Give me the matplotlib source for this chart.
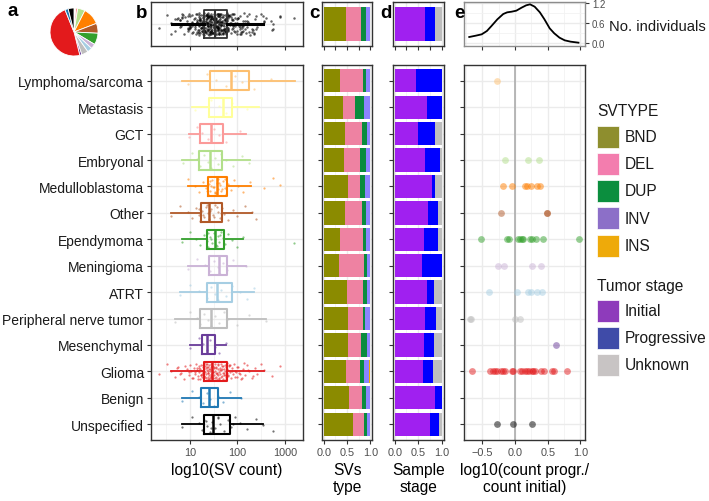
import numpy as np
import matplotlib
matplotlib.use("Agg")
import matplotlib.pyplot as plt
from matplotlib.patches import Rectangle
from matplotlib.ticker import FixedLocator, NullFormatter

plt.rcParams['font.family'] = ['Liberation Sans', 'DejaVu Sans']

# ---------------- data ----------------
categories = ["Lymphoma/sarcoma", "Metastasis", "GCT", "Embryonal", "Medulloblastoma",
              "Other", "Ependymoma", "Meningioma", "ATRT", "Peripheral nerve tumor",
              "Mesenchymal", "Glioma", "Benign", "Unspecified"]
cat_colors = ["#FDBF6F", "#FFFF99", "#FB9A99", "#B2DF8A", "#FF7F00", "#B15928", "#33A02C",
              "#CAB2D6", "#A6CEE3", "#BEBEBE", "#6A3D9A", "#E31A1C", "#1F78B4", "#000000"]
pie_share = [2, 2, 5, 18, 42, 24, 28, 12, 12, 16, 5, 172, 8, 14]

# box statistics, log10(SV count)
box_whislo = [0.84, 1.04, 0.97, 0.84, 0.95, 0.60, 0.84, 0.95, 0.78, 0.68, 1.00, 0.60, 0.84, 0.84]
box_q1     = [1.42, 1.41, 1.21, 1.19, 1.39, 1.23, 1.35, 1.40, 1.35, 1.22, 1.25, 1.29, 1.23, 1.29]
box_med    = [1.86, 1.69, 1.44, 1.42, 1.57, 1.40, 1.53, 1.61, 1.56, 1.44, 1.35, 1.46, 1.41, 1.49]
box_q3     = [2.24, 1.89, 1.69, 1.68, 1.77, 1.67, 1.72, 1.77, 1.89, 1.79, 1.53, 1.79, 1.60, 1.84]
box_whishi = [3.21, 2.45, 2.18, 2.26, 2.28, 2.30, 2.12, 2.17, 2.34, 2.60, 1.75, 2.56, 2.07, 2.54]

# all samples (top panel b)
all_box = dict(whislo=0.62, q1=1.29, med=1.53, q3=1.79, whishi=2.54)

# individual samples, log10(SV count)
sv_lymphoma = [0.95, 1.35, 1.55, 1.75, 1.95, 2.10, 2.35, 2.70]
sv_metastasis = [1.10, 1.45, 1.62, 1.75, 1.88, 2.20]
sv_gct = [0.97, 1.15, 1.25, 1.38, 1.50, 1.62, 1.75, 2.05]
sv_embryonal = [0.85, 1.05, 1.15, 1.22, 1.30, 1.38, 1.45, 1.52, 1.60, 1.66, 1.75, 1.90, 2.10, 2.25]
sv_medullo = [0.10, 0.95, 1.10, 1.20, 1.28, 1.33, 1.37, 1.40, 1.43, 1.46, 1.50, 1.53, 1.56,
              1.58, 1.60, 1.63, 1.66, 1.70, 1.73, 1.76, 1.80, 1.86, 1.93, 2.02, 2.12, 2.27,
              2.55, 2.75, 2.90, 1.35, 1.42, 1.48, 1.55, 1.62, 1.68, 1.74, 1.45, 1.52]
sv_other = [0.60, 0.80, 0.95, 1.05, 1.12, 1.18, 1.22, 1.26, 1.30, 1.34, 1.38, 1.40, 1.44,
            1.48, 1.53, 1.58, 1.63, 1.67, 1.72, 1.80, 1.90, 2.00, 2.15, 2.30, 2.40,
            1.20, 1.28, 1.36, 1.42, 1.50, 1.56, 1.65]
sv_ependymoma = [0.84, 1.00, 1.12, 1.22, 1.30, 1.35, 1.39, 1.43, 1.47, 1.50, 1.53, 1.56,
                 1.59, 1.62, 1.66, 1.70, 1.73, 1.80, 1.88, 1.98, 2.12, 3.20, 1.37, 1.45,
                 1.55, 1.64]
sv_meningioma = [0.95, 1.15, 1.32, 1.42, 1.50, 1.58, 1.64, 1.70, 1.78, 1.90, 2.17]
sv_atrt = [0.78, 1.00, 1.20, 1.35, 1.45, 1.52, 1.58, 1.66, 1.75, 1.88, 2.05, 2.20, 2.34]
sv_pnt = [0.68, 1.00, 1.15, 1.22, 1.30, 1.38, 1.44, 1.52, 1.62, 1.72, 1.80, 2.00, 2.25, 2.60]
sv_mesenchymal = [1.00, 1.20, 1.28, 1.35, 1.42, 1.52, 1.62, 1.75]
sv_glioma = [0.35, 0.52, 0.60, 0.68, 0.75, 0.82, 0.88, 0.93, 0.97, 1.00, 1.03, 1.06, 1.08,
             1.10, 1.12, 1.14, 1.16, 1.18, 1.19, 1.21, 1.22, 1.23, 1.24, 1.25, 1.26, 1.27,
             1.28, 1.29, 1.29, 1.30, 1.31, 1.32, 1.33, 1.33, 1.34, 1.35, 1.36, 1.37, 1.37,
             1.38, 1.39, 1.40, 1.40, 1.41, 1.42, 1.43, 1.44, 1.44, 1.45, 1.46, 1.46, 1.47,
             1.48, 1.49, 1.50, 1.51, 1.52, 1.53, 1.54, 1.55, 1.56, 1.57, 1.58, 1.59, 1.60,
             1.61, 1.62, 1.63, 1.64, 1.65, 1.66, 1.67, 1.68, 1.69, 1.70, 1.71, 1.72, 1.73,
             1.74, 1.75, 1.76, 1.77, 1.78, 1.79, 1.80, 1.82, 1.84, 1.86, 1.88, 1.90, 1.92,
             1.95, 1.98, 2.01, 2.04, 2.08, 2.12, 2.16, 2.20, 2.25, 2.30, 2.36, 2.42, 2.50,
             2.56, 2.72, 2.90,
             1.11, 1.17, 1.20, 1.24, 1.27, 1.30, 1.32, 1.35, 1.38, 1.41, 1.43, 1.45, 1.47,
             1.49, 1.52, 1.54, 1.57, 1.60, 1.63, 1.66, 1.69, 1.72, 1.75, 1.78, 1.81, 1.85,
             1.89, 1.94, 2.00, 2.06, 2.14, 2.22, 2.33, 0.90, 0.99, 1.05, 1.15, 1.26, 1.34,
             1.39, 1.44, 1.50, 1.55, 1.61, 1.67, 1.73, 1.83, 1.97, 2.10, 0.72, 0.80]
sv_benign = [0.84, 1.05, 1.20, 1.28, 1.35, 1.42, 1.50, 1.58, 1.70, 1.85, 2.07]
sv_unspecified = [0.84, 1.05, 1.18, 1.25, 1.30, 1.36, 1.42, 1.47, 1.52, 1.58, 1.64, 1.72,
                  1.80, 1.86, 1.95, 2.05, 2.20, 2.40, 2.54, 2.75, 1.33, 1.45, 1.60, 1.90]
sv_values = [sv_lymphoma, sv_metastasis, sv_gct, sv_embryonal, sv_medullo, sv_other,
             sv_ependymoma, sv_meningioma, sv_atrt, sv_pnt, sv_mesenchymal, sv_glioma,
             sv_benign, sv_unspecified]

# SV type fractions
svtypes = ["BND", "DEL", "DUP", "INV", "INS"]
sv_colors = ["#8B8B00", "#EE82A2", "#0A8C3E", "#8C84FF", "#EEAA00"]
sv_legend_colors = ["#8E8E2E", "#F37DAE", "#0B8E3E", "#8C6FC8", "#EEAA0A"]
frac_bnd = [0.345, 0.415, 0.450, 0.445, 0.520, 0.465, 0.360, 0.330, 0.505, 0.515, 0.530, 0.480, 0.540, 0.620]
frac_del = [0.505, 0.265, 0.365, 0.330, 0.255, 0.350, 0.485, 0.535, 0.340, 0.330, 0.260, 0.295, 0.285, 0.240]
frac_dup = [0.050, 0.180, 0.105, 0.125, 0.120, 0.095, 0.065, 0.055, 0.085, 0.050, 0.140, 0.090, 0.090, 0.070]
frac_inv = [0.085, 0.125, 0.065, 0.085, 0.090, 0.075, 0.075, 0.065, 0.055, 0.090, 0.055, 0.115, 0.075, 0.060]
frac_ins = [0.015, 0.015, 0.015, 0.015, 0.015, 0.015, 0.015, 0.015, 0.015, 0.015, 0.015, 0.020, 0.010, 0.010]
all_sv_frac = [0.48, 0.33, 0.09, 0.09, 0.01]

# tumour stage fractions
stages = ["Initial", "Progressive", "Unknown"]
stage_colors = ["#A020F0", "#0000FF", "#BEBEBE"]
stage_legend_colors = ["#8E3BBB", "#3F4BA8", "#C8C4C4"]
frac_initial = [0.46, 0.695, 0.50, 0.65, 0.80, 0.715, 0.615, 0.59, 0.68, 0.65, 0.615, 0.61, 0.865, 0.75]
frac_progressive = [0.54, 0.305, 0.355, 0.305, 0.05, 0.215, 0.305, 0.41, 0.165, 0.235, 0.22, 0.20, 0.135, 0.185]
frac_unknown = [0.00, 0.00, 0.145, 0.045, 0.15, 0.07, 0.08, 0.00, 0.155, 0.115, 0.165, 0.19, 0.00, 0.065]
all_stage_frac = [0.65, 0.21, 0.14]

# log10(count progr./count initial) per individual
ratio_values = [
    [-0.27],
    [],
    [],
    [-0.155, 0.20, 0.37],
    [-0.18, -0.045, 0.15, 0.18, 0.24, 0.34, 0.38],
    [-0.22, 0.49, 0.49],
    [-0.52, -0.13, -0.09, 0.05, 0.08, 0.10, 0.126, 0.23, 0.26, 0.32, 0.43, 0.98],
    [-0.265, -0.17, 0.26, 0.40],
    [-0.40, 0.036, 0.20, 0.25, 0.33, 0.42],
    [-0.67, -0.69, 0.0, 0.077],
    [0.634],
    [-0.655, -0.39, -0.34, -0.31, -0.28, -0.21, -0.18, -0.155, -0.05, -0.026, 0.07, 0.10,
     0.15, 0.18, 0.21, 0.26, 0.28, 0.31, 0.39, 0.44, 0.57, 0.59, 0.80],
    [],
    [-0.27, -0.026, 0.26],
]
# density of individuals (top panel e)
dens_x = [-0.70, -0.60, -0.51, -0.43, -0.36, -0.27, -0.18, -0.12, -0.05, 0.02, 0.10, 0.17,
          0.23, 0.30, 0.38, 0.45, 0.53, 0.60, 0.68, 0.76, 0.85, 0.97]
dens_y = [0.19, 0.23, 0.27, 0.37, 0.52, 0.72, 0.88, 0.93, 0.95, 0.98, 1.07, 1.14,
          1.17, 1.10, 0.93, 0.72, 0.45, 0.30, 0.17, 0.09, 0.05, 0.02]

# ---------------- figure ----------------
W, H = 709, 502
fig = plt.figure(figsize=(W / 100, H / 100), dpi=100)


def ax_px(x0, y0, x1, y1):
    return fig.add_axes([x0 / W, 1 - y1 / H, (x1 - x0) / W, (y1 - y0) / H])


def style(ax):
    ax.set_axisbelow(True)
    ax.grid(which='major', color='#EBEBEB', lw=1.0)
    ax.grid(which='minor', color='#F2F2F2', lw=0.6)
    for s in ax.spines.values():
        s.set_color('#333333')
        s.set_linewidth(1.0)
    ax.tick_params(which='major', length=3, width=0.8, color='#333333',
                   labelsize=7.8, labelcolor='#4D4D4D', pad=2)
    ax.tick_params(which='minor', length=0)


n = len(categories)
ypos = np.arange(n, 0, -1)
YLIM = (0.4, n + 0.6)

def jitter(k):
    return ((np.arange(k) * 0.6180339887 + 0.31) % 1.0 - 0.5) * 0.62

# ---- pie (a)
axa = ax_px(44, 3, 104, 63)
axa.pie(pie_share, colors=cat_colors, startangle=90, counterclock=False,
        wedgeprops=dict(edgecolor='white', linewidth=0.6))
axa.set_aspect('equal')

# ---- b main
LOGLIM = (10 ** 0.18, 10 ** 3.38)
axb = ax_px(151, 66, 303, 441)
style(axb)
axb.set_xscale('log')
axb.set_xlim(*LOGLIM)
axb.set_ylim(*YLIM)
axb.xaxis.set_major_locator(FixedLocator([10, 100, 1000]))
axb.xaxis.set_major_formatter(matplotlib.ticker.FixedFormatter(["10", "100", "1000"]))
axb.xaxis.set_minor_locator(FixedLocator([10 ** 0.5, 10 ** 1.5, 10 ** 2.5]))
axb.xaxis.set_minor_formatter(NullFormatter())
axb.set_yticks(ypos)
axb.set_yticklabels(categories, fontsize=10, color='#1A1A1A')
for i in range(n):
    vals = 10 ** np.array(sv_values[i])
    axb.scatter(vals, ypos[i] + jitter(len(vals)), s=2.6, color=cat_colors[i],
                alpha=0.55, lw=0, zorder=2)
    st = [dict(whislo=10 ** box_whislo[i], q1=10 ** box_q1[i], med=10 ** box_med[i],
               q3=10 ** box_q3[i], whishi=10 ** box_whishi[i], fliers=[])]
    c = cat_colors[i]
    axb.bxp(st, positions=[ypos[i]], vert=False, widths=0.72, showfliers=False,
            showcaps=False, manage_ticks=False,
            boxprops=dict(color=c, lw=1.5), medianprops=dict(color=c, lw=1.8),
            whiskerprops=dict(color=c, lw=1.3))
axb.set_xlabel("log10(SV count)", fontsize=11.2, labelpad=4)

# ---- b top
axbt = ax_px(151, 3, 303, 47)
style(axbt)
axbt.set_xscale('log')
axbt.set_xlim(*LOGLIM)
axbt.set_ylim(0.4, 1.6)
axbt.xaxis.set_major_locator(FixedLocator([10, 100, 1000]))
axbt.xaxis.set_minor_locator(FixedLocator([10 ** 0.5, 10 ** 1.5, 10 ** 2.5]))
axbt.xaxis.set_major_formatter(NullFormatter())
axbt.xaxis.set_minor_formatter(NullFormatter())
axbt.set_yticks([1])
axbt.set_yticklabels([])
axbt.tick_params(axis='y', length=0)
pooled = 10 ** np.concatenate([np.array(v) for v in sv_values])
axbt.scatter(pooled, 1 + jitter(len(pooled)) * 0.95, s=3.2, color='black', alpha=0.6,
             lw=0, zorder=2)
axbt.bxp([dict(fliers=[], **{k: 10 ** v for k, v in all_box.items()})], positions=[1],
         vert=False, widths=0.78, showfliers=False, showcaps=False, manage_ticks=False,
         boxprops=dict(color='#333333', lw=1.3), medianprops=dict(color='#333333', lw=1.5),
         whiskerprops=dict(color='black', lw=2.2))

# ---- c main / top
def stacked(ax, rows_y, fracs, colors, h):
    left = np.zeros(len(rows_y))
    for f, c in zip(fracs, colors):
        f = np.array(f, dtype=float)
        ax.barh(rows_y, f, left=left, height=h, color=c, lw=0, zorder=2)
        left = left + f


def frac_axes(x0, x1, xl):
    ax = ax_px(x0, 66, x1, 441)
    style(ax)
    ax.set_xlim(*xl)
    ax.set_ylim(*YLIM)
    ax.set_xticks([0, 0.5, 1.0])
    ax.set_xticklabels(["0.0", "0.5", "1.0"])
    ax.set_xticks([0.25, 0.75], minor=True)
    ax.set_yticks(ypos)
    ax.set_yticklabels([])
    axt = ax_px(x0, 3, x1, 47)
    style(axt)
    axt.set_xlim(*xl)
    axt.set_ylim(0.4, 1.6)
    axt.set_xticks([0, 0.25, 0.5, 0.75, 1.0])
    axt.set_xticklabels([])
    axt.set_yticks([])
    return ax, axt

axc, axct = frac_axes(322, 372, (-0.035, 1.035))
stacked(axc, ypos, [frac_bnd, frac_del, frac_dup, frac_inv, frac_ins], sv_colors, 0.88)
stacked(axct, [1], [[v] for v in all_sv_frac], sv_colors, 0.94)
axc.set_xlabel("SVs\ntype", fontsize=11.2, labelpad=4, linespacing=1.15)

axd, axdt = frac_axes(393, 444, (-0.035, 1.05))
stacked(axd, ypos, [frac_initial, frac_progressive, frac_unknown], stage_colors, 0.88)
stacked(axdt, [1], [[v] for v in all_stage_frac], stage_colors, 0.94)
axd.set_xlabel("Sample\nstage", fontsize=11.2, labelpad=4, linespacing=1.15)

# ---- e main
ELIM = (-0.78, 1.07)
axe = ax_px(464, 66, 585, 441)
style(axe)
axe.set_xlim(*ELIM)
axe.set_ylim(*YLIM)
axe.set_xticks([-0.5, 0.0, 0.5, 1.0])
axe.set_xticklabels(["\u22120.5", "0.0", "0.5", "1.0"])
axe.set_xticks([-0.75, -0.25, 0.25, 0.75], minor=True)
axe.set_yticks(ypos)
axe.set_yticklabels([])
axe.axvline(0, color='#A6A6A6', lw=1.1, zorder=1.5)
for i in range(n):
    v = ratio_values[i]
    if v:
        axe.scatter(v, [ypos[i]] * len(v), s=24, color=cat_colors[i], alpha=0.5, lw=0,
                    zorder=3)
axe.set_xlabel("log10(count progr./\ncount initial)", fontsize=11.2, labelpad=4,
               linespacing=1.15)

# ---- e top
axet = ax_px(464, 3, 585, 47)
style(axet)
axet.set_xlim(*ELIM)
axet.set_ylim(-0.08, 1.24)
axet.set_xticks([-0.5, 0.0, 0.5, 1.0])
axet.set_xticks([-0.75, -0.25, 0.25, 0.75], minor=True)
axet.set_xticklabels([])
axet.yaxis.tick_right()
axet.set_yticks([0.0, 0.6, 1.2])
axet.set_yticklabels(["0.0", "0.6", "1.2"], fontsize=7)
axet.set_yticks([0.3, 0.9], minor=True)
for s in axet.spines.values():
    s.set_color('#8C8C8C')
axet.plot(dens_x, dens_y, color='black', lw=1.3, zorder=3)
fig.text(609 / W, 1 - 27 / H, "No. individuals", fontsize=10.6, va='center', ha='left',
         color='#1A1A1A')

# ---- legends
def legend_block(title, ty, labels, colors, rows_y):
    fig.text(597 / W, 1 - ty / H, title, fontsize=11.2, va='center', ha='left',
             color='#1A1A1A')
    for lab, c, yy in zip(labels, colors, rows_y):
        fig.patches.append(Rectangle((597 / W, 1 - (yy + 11) / H), 22 / W, 22 / H,
                                     transform=fig.transFigure, facecolor=c,
                                     edgecolor='white', lw=0.5))
        fig.text(625 / W, 1 - yy / H, lab, fontsize=11.2, va='center', ha='left',
                 color='#1A1A1A')

legend_block("SVTYPE", 112, svtypes, sv_legend_colors, [137.5, 165, 192, 219, 246.5])
legend_block("Tumor stage", 287, stages, stage_legend_colors, [312, 339, 366])

# ---- panel letters
for lab, x, y in [("a", 8, 12), ("b", 136, 14), ("c", 309, 14), ("d", 380, 14), ("e", 454, 14)]:
    fig.text(x / W, 1 - y / H, lab, fontsize=13.5, fontweight='bold', va='center',
             ha='left')

fig.savefig("out.png", dpi=100)
